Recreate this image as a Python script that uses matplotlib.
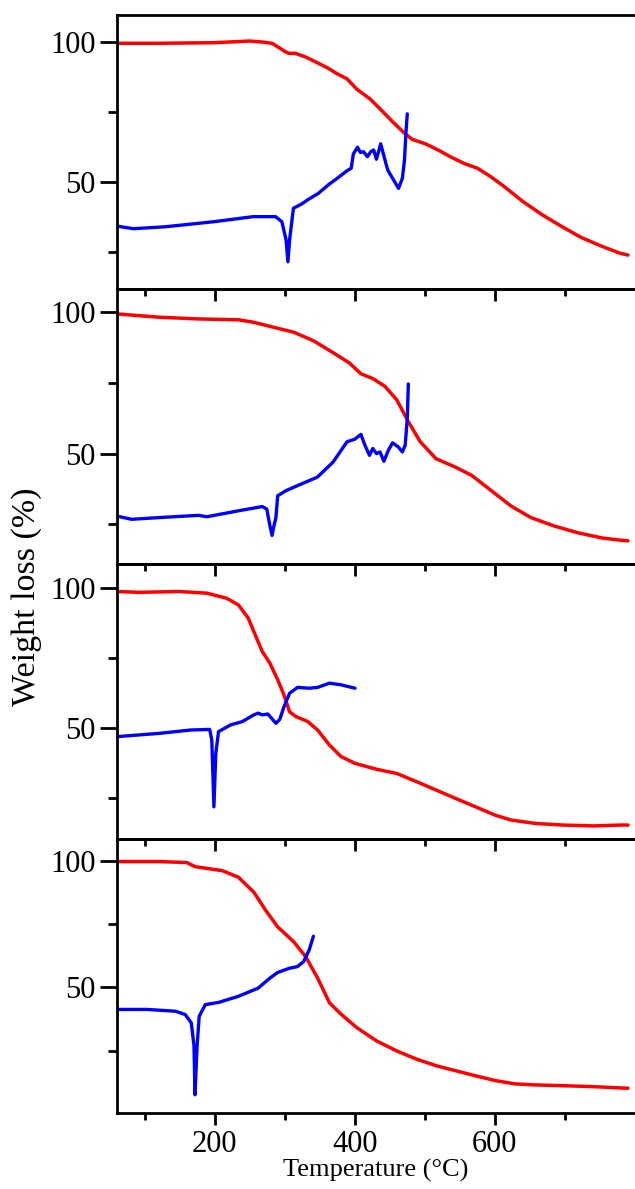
import matplotlib

matplotlib.use("Agg")
import matplotlib.pyplot as plt
from matplotlib.ticker import FixedLocator

plt.rcParams["font.family"] = ["Liberation Serif", "DejaVu Serif"]

# panel 1
p1_tga_t = [59, 120, 199, 250, 270, 282, 301, 306, 315, 329, 343, 362, 375, 389,
            403, 422, 440, 454, 471, 482, 501, 519, 538, 556, 575, 594, 612, 640,
            668, 696, 723, 751, 779, 790]
p1_tga_w = [99.4, 99.4, 99.6, 100.2, 99.8, 99.4, 96.4, 95.8, 95.8, 94.6, 92.9,
            90.5, 88.5, 86.7, 83.0, 79.5, 75.0, 71.4, 67.3, 65.1, 63.5, 61.3,
            58.7, 56.5, 54.8, 51.8, 48.5, 42.9, 38.1, 33.9, 30.1, 27.1, 24.4, 23.8]
p1_dtg_t = [59, 84, 130, 199, 255, 287, 296, 302, 304.6, 307, 312.5, 324, 334,
            348, 362, 375, 389, 395, 398, 404, 408, 412.5, 418, 423, 427, 431,
            437, 440, 447, 454, 462.5, 468, 471, 473, 475]
p1_dtg_v = [34.2, 33.2, 33.9, 35.7, 37.5, 37.5, 35.7, 29.2, 21.4, 29.2, 40.5,
            42.0, 43.7, 45.8, 48.8, 51.2, 53.9, 54.8, 59.9, 62.3, 60.4, 60.7,
            58.9, 60.7, 61.3, 58.0, 63.5, 60.7, 54.2, 51.2, 47.6, 51.2, 57.7,
            67.3, 74.2]

# panel 2
p2_tga_t = [59, 121, 177, 234, 256, 285, 313, 341, 369, 392, 409, 426, 443, 460,
            476.5, 493.5, 516, 544, 567, 595, 623, 651.5, 685, 719, 753, 780, 790]
p2_tga_w = [99.4, 98.2, 97.6, 97.3, 96.4, 94.6, 92.9, 89.9, 85.7, 82.1, 78.2,
            76.5, 73.8, 69.0, 61.3, 54.2, 48.2, 45.2, 42.3, 36.9, 31.5, 27.4,
            24.4, 22.0, 20.2, 19.4, 19.2]
p2_dtg_t = [59, 81.5, 121, 177, 189, 234, 268, 274.5, 279, 282, 284.6, 287.5,
            290, 301.6, 324, 346.7, 369, 389, 400, 408.8, 414.5, 421, 425.7, 431,
            436, 441.6, 448, 454, 462, 468, 472, 475, 476.5]
p2_dtg_v = [28.0, 26.8, 27.4, 28.2, 27.7, 29.8, 31.3, 30.4, 24.4, 21.1, 24.4,
            27.4, 35.1, 36.9, 39.3, 41.7, 47.0, 54.2, 55.1, 56.8, 53.0, 49.4,
            51.8, 50.0, 50.6, 47.3, 51.2, 53.8, 52.4, 50.6, 53.0, 62.5, 74.6]

# panel 3
p3_tga_t = [59, 93, 149, 189, 217, 234, 248, 259, 268, 279, 290, 299, 307, 316,
            333, 347, 364, 380.6, 400.4, 431, 460, 488, 516, 544, 572.5, 600.7,
            623, 657, 696.6, 741.7, 780, 790]
p3_tga_w = [98.8, 98.5, 98.8, 98.2, 96.4, 94.0, 89.3, 82.7, 77.4, 73.2, 67.3,
            61.9, 55.9, 54.2, 52.4, 49.4, 44.0, 39.9, 37.5, 35.4, 33.9, 31.0,
            28.0, 25.0, 22.0, 19.0, 17.3, 16.1, 15.5, 15.2, 15.5, 15.5]
p3_dtg_t = [59, 121, 166, 193, 196, 199, 201.7, 205.6, 222.6, 239.5, 256, 262,
            268, 276, 287.5, 293, 299, 307, 318.5, 335, 347, 364, 380.6, 400.4]
p3_dtg_v = [47.0, 48.2, 49.4, 49.6, 45.8, 22.0, 41.1, 48.8, 51.2, 52.4, 54.8,
            55.4, 54.8, 55.1, 51.8, 53.2, 57.7, 62.5, 64.6, 64.3, 64.6, 66.1,
            65.5, 64.3]

# panel 4
p4_tga_t = [59, 121, 160.5, 172, 189, 211, 234, 256, 273, 290, 313, 330, 347,
            364, 381, 403, 431, 460, 488, 516, 544, 572.5, 600.7, 629, 657,
            696.6, 741.7, 780, 790]
p4_tga_w = [99.7, 99.7, 99.3, 97.7, 97.0, 96.1, 93.5, 87.6, 80.4, 73.9, 68.0,
            62.1, 53.7, 43.9, 39.3, 34.1, 28.9, 24.9, 21.7, 19.1, 17.1, 15.1,
            13.2, 11.9, 11.5, 11.2, 10.8, 10.3, 10.2]
p4_dtg_t = [59, 104, 144, 158, 166.7, 170.6, 172, 175, 178, 186.7, 206, 234,
            262, 279, 290, 307, 318, 327, 335, 341]
p4_dtg_v = [41.3, 41.3, 40.6, 39.3, 36.0, 26.9, 7.6, 26.9, 38.6, 43.2, 44.1,
            46.5, 49.7, 53.7, 55.9, 57.6, 58.2, 60.2, 64.8, 70.2]

x_major = [200, 400, 600]
x_minor = [100, 300, 500, 700]
y_major = [50, 100]
y_minor = [25, 75]

panels = [
    (p1_tga_t, p1_tga_w, p1_dtg_t, p1_dtg_v, (11.5, 109.5)),
    (p2_tga_t, p2_tga_w, p2_dtg_t, p2_dtg_v, (11.0, 108.0)),
    (p3_tga_t, p3_tga_w, p3_dtg_t, p3_dtg_v, (10.7, 108.6)),
    (p4_tga_t, p4_tga_w, p4_dtg_t, p4_dtg_v, (0.4, 108.8)),
]

fig = plt.figure(figsize=(6.35, 11.89), dpi=100)
gs = fig.add_gridspec(4, 1, left=0.1835, right=1.0, top=0.9874,
                      bottom=0.0639, hspace=0)

axes = []
for i, (tt, tw, dt, dv, ylim) in enumerate(panels):
    ax = fig.add_subplot(gs[i], sharex=axes[0] if axes else None)
    ax.set_facecolor("none")
    ax.plot(tt, tw, color="#ff0000", lw=2.5, solid_capstyle="round",
            solid_joinstyle="round")
    ax.plot(dt, dv, color="#0000ff", lw=2.4, solid_capstyle="round",
            solid_joinstyle="round")
    ax.set_xlim(60, 800)
    ax.set_ylim(*ylim)
    ax.spines["right"].set_visible(False)
    for s in ("left", "top", "bottom"):
        ax.spines[s].set_linewidth(2)
    ax.xaxis.set_major_locator(FixedLocator(x_major))
    ax.xaxis.set_minor_locator(FixedLocator(x_minor))
    ax.yaxis.set_major_locator(FixedLocator(y_major))
    ax.yaxis.set_minor_locator(FixedLocator(y_minor))
    ax.tick_params(axis="y", which="major", direction="out", length=12,
                   width=2, labelsize=22, pad=3)
    ax.tick_params(axis="y", which="minor", direction="out", length=6.5,
                   width=2)
    ax.tick_params(axis="x", which="major", direction="out", length=8.5,
                   width=2, labelsize=22, pad=4)
    ax.tick_params(axis="x", which="minor", direction="out", length=5,
                   width=2)
    ax.tick_params(top=False, right=False)
    if i < 3:
        ax.tick_params(labelbottom=False)
    axes.append(ax)

fig.text(376 / 635, 1 - 1170 / 1189, "Temperature (\u00b0C)", fontsize=19,
         ha="center", va="center")
fig.text(27 / 635, 1 - 597 / 1189, "Weight loss (%)", fontsize=24.5,
         rotation=90, ha="center", va="center")

fig.savefig("out.png", dpi=100)
